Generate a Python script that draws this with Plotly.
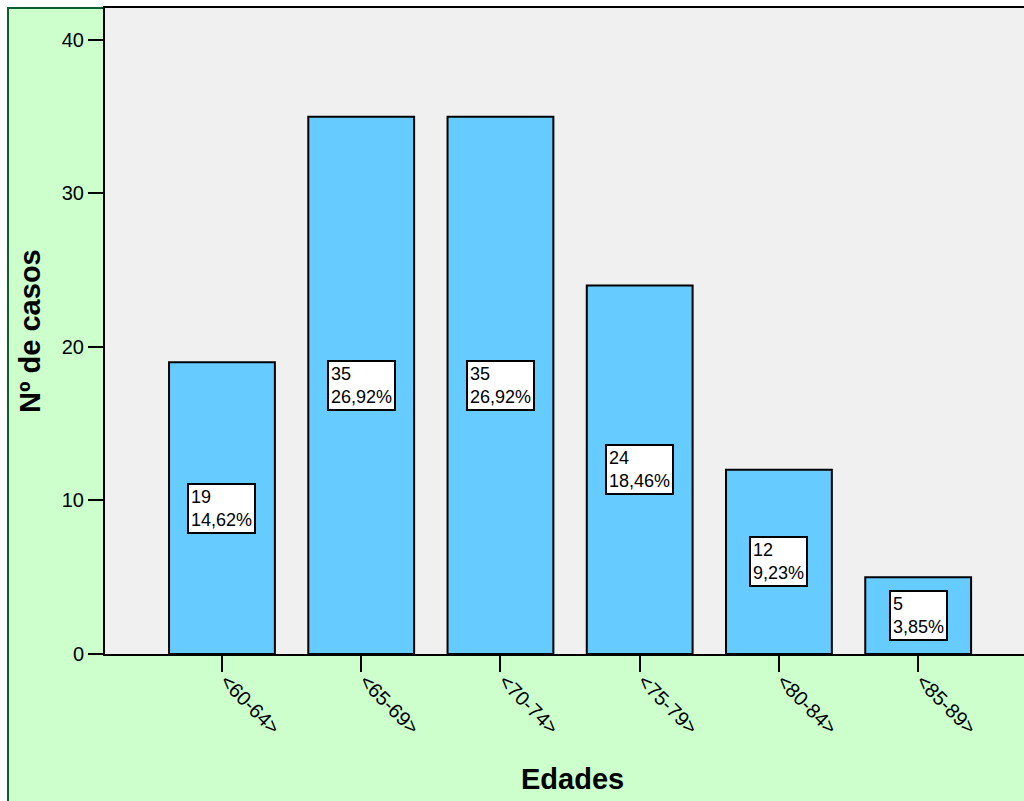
import plotly.graph_objects as go

categorias = ["<60-64>", "<65-69>", "<70-74>", "<75-79>", "<80-84>", "<85-89>"]
casos = [19, 35, 35, 24, 12, 5]
porcentajes = ["14,62%", "26,92%", "26,92%", "18,46%", "9,23%", "3,85%"]
y_ticks = [0, 10, 20, 30, 40]

FONT = "Arial, Liberation Sans, sans-serif"
L, R, T, B = 105, 1024, 8, 654
W, H = R - L, B - T

def px(x):
    return (x - L) / W

def py(y):
    return (B - y) / H

fig = go.Figure()
fig.add_trace(go.Bar(
    x=list(range(len(categorias))),
    y=casos,
    width=0.76,
    marker=dict(color="#66CCFF", line=dict(color="black", width=2)),
    hoverinfo="skip",
))

annotations = []
for i, (n, p) in enumerate(zip(casos, porcentajes)):
    annotations.append(dict(
        x=i, y=n / 2, xref="x", yref="y",
        text=f"{n}<br>{p}", showarrow=False, align="left",
        bgcolor="white", bordercolor="black", borderwidth=2, borderpad=2,
        font=dict(family=FONT, size=18, color="black"),
    ))

annotations.append(dict(
    x=px(572), y=py(779), xref="paper", yref="paper",
    text="<b>Edades</b>", showarrow=False,
    font=dict(family=FONT, size=29, color="black"),
    xanchor="center", yanchor="middle",
))
annotations.append(dict(
    x=px(30), y=py(331), xref="paper", yref="paper",
    text="<b>Nº de casos</b>", showarrow=False, textangle=-90,
    font=dict(family=FONT, size=29, color="black"),
    xanchor="center", yanchor="middle",
))

shapes = [
    dict(type="rect", xref="paper", yref="paper", layer="below",
         x0=px(8), x1=px(1060), y0=py(840), y1=py(8),
         fillcolor="#CCFFCC", line=dict(color="#0A5C32", width=2)),
    dict(type="rect", xref="paper", yref="paper", layer="below",
         x0=0, x1=1, y0=0, y1=1,
         fillcolor="#F0F0F0", line=dict(width=0)),
]

fig.update_layout(
    width=1024, height=801,
    margin=dict(l=L, r=1024 - R, t=T, b=801 - B, pad=0),
    paper_bgcolor="white",
    plot_bgcolor="#F0F0F0",
    showlegend=False,
    annotations=annotations,
    shapes=shapes,
    font=dict(family=FONT, color="black"),
    xaxis=dict(
        tickmode="array", tickvals=list(range(len(categorias))), ticktext=categorias,
        range=[-0.84, 5.76], tickangle=45,
        ticks="outside", ticklen=16, tickwidth=2, tickcolor="black",
        ticklabelstandoff=-10, ticklabelshift=4,
        showline=True, linecolor="black", linewidth=2, mirror=True,
        showgrid=False, zeroline=False,
        tickfont=dict(family=FONT, size=20, color="black"),
    ),
    yaxis=dict(
        tickmode="array", tickvals=y_ticks, range=[0, 42.08],
        ticks="outside", ticklen=15, tickwidth=2, tickcolor="black",
        showline=True, linecolor="black", linewidth=2,
        showgrid=False, zeroline=False,
        tickfont=dict(family=FONT, size=20, color="black"),
    ),
)

fig.write_html("out.html")
